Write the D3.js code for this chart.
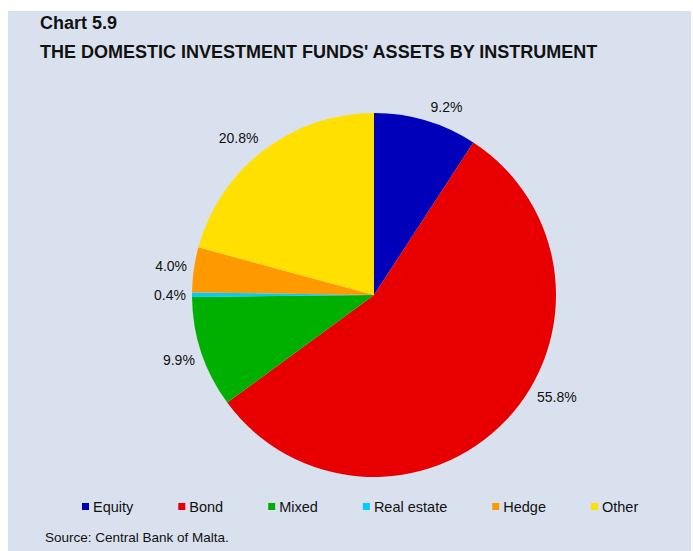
<!DOCTYPE html>
<html><head><meta charset="utf-8">
<script src="https://cdn.jsdelivr.net/npm/d3@7/dist/d3.min.js"></script>
<style>body{margin:0;background:#fff}svg{display:block}text{font-family:"Liberation Sans",Arial,sans-serif;fill:#111}</style>
</head><body><svg id="c" width="693" height="551"></svg>
<script>
const categories = ["Equity","Bond","Mixed","Real estate","Hedge","Other"];
const values = [9.2,55.8,9.9,0.4,4.0,20.8];
const colors = ["#0000BB","#E80000","#00B000","#00CCFF","#FF9900","#FFE000"];

const svg = d3.select("#c");
svg.append("rect").attr("x",8).attr("y",11).attr("width",683).attr("height",540).attr("fill","#DAE1EE");
svg.append("text").attr("x",40).attr("y",29).attr("font-size",18).attr("font-weight","bold").text("Chart 5.9");
svg.append("text").attr("x",40).attr("y",58).attr("font-size",18).attr("font-weight","bold").text("THE DOMESTIC INVESTMENT FUNDS' ASSETS BY INSTRUMENT");

const cx=374, cy=295, R=182;
const data = categories.map((c,i)=>({c, v:values[i], col:colors[i]}));
const pie = d3.pie().value(d=>d.v).sort(null);
const arcs = pie(data);
const arc = d3.arc().innerRadius(0).outerRadius(R);
const g = svg.append("g").attr("transform",`translate(${cx},${cy})`);
g.selectAll("path").data(arcs).join("path").attr("d",arc).attr("fill",d=>d.data.col);

const nudge = {"Bond": -0.25, "Equity": 0.08, "Other": -0.06};
arcs.forEach(a=>{
  let ang = (a.startAngle+a.endAngle)/2 + (nudge[a.data.c]||0);
  const t = g.append("text").attr("font-size",14).attr("text-anchor","middle").attr("dominant-baseline","central").text(d3.format(".1f")(a.data.v)+"%");
  const bb = t.node().getBBox();
  const s = Math.sin(ang), c = -Math.cos(ang);
  const d = R + 6 + Math.abs(s)*bb.width/2 + Math.abs(c)*bb.height/2;
  t.attr("x", d*s).attr("y", d*c);
});

// legend
let lx = 82; const ly = 507;
categories.forEach((cat,i)=>{
  svg.append("rect").attr("x",lx).attr("y",ly-4).attr("width",7).attr("height",7).attr("fill",colors[i]);
  const t = svg.append("text").attr("x",lx+11).attr("y",ly+5).attr("font-size",14.5).text(cat);
  lx = lx + 11 + t.node().getComputedTextLength() + 45;
});
svg.append("text").attr("x",45).attr("y",542).attr("font-size",13.5).text("Source: Central Bank of Malta.");
</script></body></html>
